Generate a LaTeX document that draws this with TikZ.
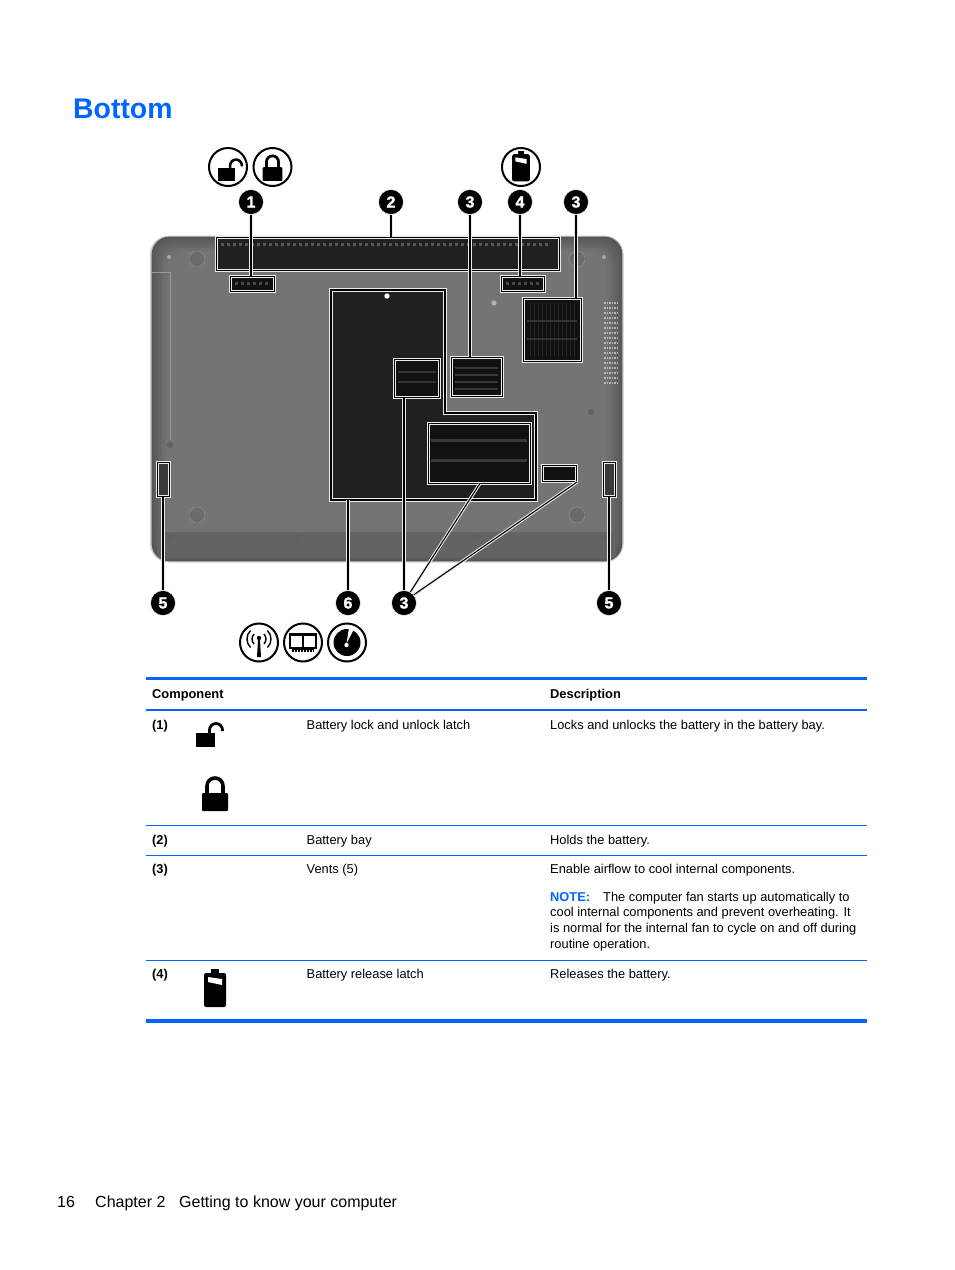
\documentclass[tikz,border=0pt]{standalone}
\usepackage{fontspec}
\setmainfont{Liberation Sans}
\newfontfamily\calloutfont[FakeBold=1.6]{Liberation Sans Bold}
\definecolor{hpblue}{HTML}{0066FF}
\definecolor{bodyedge}{HTML}{565656}
\definecolor{bodymid}{HTML}{747474}
\definecolor{bodyband}{HTML}{636363}
\definecolor{holefill}{HTML}{202020}
\definecolor{ventfill}{HTML}{111111}
\tikzset{
  px/.style={x=1pt,y=-1pt},
  leader/.style={draw=white!92!black,double=black,line width=1.05pt,double distance=1.1pt},
  hole/.style={leader,fill=holefill},
  slot/.style={hole,inner sep=0pt,anchor=north west},
  callout/.style={circle,fill=black,draw=white,line width=0.5pt,minimum size=25pt,inner sep=0pt,text=white,font=\fontsize{16}{15}\calloutfont},
  iconring/.style={circle,draw=black,fill=white,line width=2pt,minimum size=38pt,inner sep=0pt},
  txt/.style={anchor=base west,inner sep=0pt,font=\fontsize{12.85}{15}\selectfont},
  txtb/.style={txt,font=\fontsize{12.85}{15}\selectfont\bfseries},
  foot/.style={anchor=base west,inner sep=0pt,font=\fontsize{16}{18}\selectfont},
  thickrule/.style={draw=hpblue,line width=3pt},
  midrule/.style={draw=hpblue,line width=2pt},
  thinrule/.style={draw=hpblue,line width=1pt},
  pics/lockshut/.style={code={
    \fill[rounded corners=1pt] (-13,-1) rectangle (13,17);
    \draw[line width=#1*3.6pt] (-8,0) -- (-8,-8) arc[start angle=180,end angle=0,x radius=8,y radius=-8] -- (8,0);
  }},
  pics/lockopen/.style={code={
    \fill (-10,-1) rectangle (9,13);
    \draw[line width=#1*2.8pt] (3.5,0) -- (3.5,-4) arc[start angle=180,end angle=0,x radius=6.5,y radius=-6.5] -- (16.5,-3);
  }},
  pics/batt/.style={code={
    \fill[rounded corners=2pt] (-11,-16) rectangle (11,18);
    \fill (-4,-20) rectangle (4,-15);
    \fill[white] (-7,-12) -- (7,-10) -- (7,-4) -- (-7,-7) -- cycle;
  }},
}
\begin{document}
\begin{tikzpicture}[px]
\useasboundingbox[fill=white] (0,0) rectangle (954,1270);

% title
\node[anchor=base west,inner sep=0pt,text=hpblue,font=\fontsize{28.4}{30}\selectfont\bfseries] (title) at (73,118) {Bottom};

% laptop body with soft edges
\fill[black!20,rounded corners=19pt] (150,235.5) rectangle (623.5,562.5);
\foreach \ins/\mix in {0.6/0,2/12,4/25,6/38,8/52,10/66,12/80,14/90,16/100} {
  \fill[bodymid!\mix!bodyedge,rounded corners=18pt] (151+\ins,236+\ins) rectangle (623-\ins,562-\ins);
}
\fill[bodyband,rounded corners=3pt] (157,534) rectangle (616,558);
\fill[bodyband!85!bodymid] (165,532) rectangle (608,534);
\draw[black!40,line width=.5pt] (152,272) -- (170,272) -- (170,440);
% screws and feet
\foreach \sx/\sy in {169/257,604/257}
  \fill[black!35] (\sx,\sy) circle[radius=2];
\foreach \sx/\sy in {170/445,591/412,170/538,297/538,477/538,603/538}
  \fill[black!62] (\sx,\sy) circle[radius=3];
\foreach \sx/\sy in {197/515,577/515,197/259,577/259}
  \draw[black!45,line width=.6pt,fill=bodymid!92!black] (\sx,\sy) circle[radius=8];
\draw[black!55,fill=bodymid,line width=1pt] (312,286) circle[radius=3];
\fill[black!30] (494,303) circle[radius=2.5];
% side vent strip
\foreach \sy in {303,308,...,383}
  \draw[white!72!black,line width=1.8pt,dash pattern=on 1.5pt off 1pt] (604,\sy) -- (618,\sy);

% door
\path[hole] (331,290) -- (445,290) -- (445,413) -- (536,413) -- (536,500) -- (331,500) -- cycle;
\coordinate (doorb) at (348,500);
\fill[white] (387,296) circle[radius=2.7];

% highlighted regions
\node[slot,minimum width=343pt,minimum height=33pt] (bay) at (216,237) {};
\node[slot,fill=ventfill,minimum width=44pt,minimum height=15pt] (latchA) at (230,276) {};
\node[slot,fill=ventfill,minimum width=43pt,minimum height=15pt] (latchB) at (501,276) {};
\node[slot,fill=ventfill,minimum width=58pt,minimum height=63pt] (ventR) at (523,298) {};
\node[slot,fill=ventfill,minimum width=51pt,minimum height=39pt] (ventM) at (451,357) {};
\node[slot,fill=ventfill,minimum width=45pt,minimum height=38pt] (ventI) at (394,359) {};
\node[slot,fill=ventfill,minimum width=102pt,minimum height=60pt] (ventB) at (428,423) {};
\node[slot,fill=ventfill,minimum width=34pt,minimum height=16pt] (ventS) at (542,465) {};
\node[slot,fill=white!22!black,minimum width=12pt,minimum height=34pt] (sideL) at (157,462) {};
\node[slot,fill=white!22!black,minimum width=12pt,minimum height=34pt] (sideR) at (603,462) {};
% vent slats
\foreach \sy in {439,459} \fill[black!78] (431,\sy) rectangle (527,\sy+3);
\foreach \sy in {371,381} \fill[black!80] (398,\sy) rectangle (436,\sy+2);
\foreach \sy in {367,374,381,388} \fill[black!78] (455,\sy) rectangle (498,\sy+1.5);
\foreach \sx in {530,534,...,574} \fill[black!85] (\sx,303) rectangle (\sx+1,356);
\foreach \sy in {320,338} \fill[black!80] (527,\sy) rectangle (577,\sy+1.5);
\foreach \sx in {221,227,...,550} \fill[black!65] (\sx,243) rectangle (\sx+3,246);
\foreach \sx in {235,241,...,268} \fill[black!72] (\sx,282) rectangle (\sx+3,285);
\foreach \sx in {506,512,...,538} \fill[black!72] (\sx,282) rectangle (\sx+3,285);

% callouts
\node[callout] (cA) at (251,202) {1};
\node[callout] (cB) at (391,202) {2};
\node[callout] (cC) at (470,202) {3};
\node[callout] (cD) at (520,202) {4};
\node[callout] (cE) at (576,202) {3};
\node[callout] (cF) at (163,603) {5};
\node[callout] (cG) at (348,603) {6};
\node[callout] (cH) at (404,603) {3};
\node[callout] (cI) at (609,603) {5};

% connectors
\draw[leader] (cA.south) -- (cA.south |- latchA.north);
\draw[leader] (cB.south) -- (cB.south |- bay.north);
\draw[leader] (cC.south) -- (cC.south |- ventM.north);
\draw[leader] (cD.south) -- (cD.south |- latchB.north);
\draw[leader] (cE.south) -- (cE.south |- ventR.north);
\draw[leader] (cF.north) -- (cF.north |- sideL.south);
\draw[leader] (cI.north) -- (cI.north |- sideR.south);
\draw[leader] (cG.north) -- (doorb);
\draw[leader] (cH.north) -- (cH.north |- ventI.south);
\draw[leader] (cH.60) -- (ventB.south);
\draw[leader] (cH.40) -- (ventS.south east);

% icon circles
\node[iconring] (iA) at (228,167) {};
\node[iconring] (iB) at (272.5,167) {};
\node[iconring] (iC) at (521,167) {};
\node[iconring] (iD) at (259,642.5) {};
\node[iconring] (iE) at (303,642.5) {};
\node[iconring] (iF) at (347,642.5) {};
\pic[scale=.9] at (227,169) {lockopen=.9};
\pic[scale=.76] at (272.5,168) {lockshut=.76};
\pic[scale=.8] at (iC) {batt=.8};
% wireless icon
\fill (258,640) -- (260,640) -- (261,657) -- (257,657) -- cycle;
\fill (259,638) circle[radius=2.2];
\foreach \r in {7,12} {
  \draw[line width=1.4pt] ([shift={(-45:\r pt)}]259,639) arc[start angle=-45,end angle=45,radius=\r pt];
  \draw[line width=1.4pt] ([shift={(135:\r pt)}]259,639) arc[start angle=135,end angle=225,radius=\r pt];
}
% memory icon
\draw[line width=1.6pt] (290,634) rectangle (316,648);
\fill (302,634) rectangle (304,648);
\fill (290,633) rectangle (316,636);
\fill (292,648) rectangle (314,652);
\foreach \mx in {294,297,...,312} \fill[white] (\mx,649.5) rectangle (\mx+1,652);
% hard-drive icon
\fill[black] (347,642.5) circle[radius=13.5];
\fill[white] (346.5,643.5) -- (349,628) -- (354,629) -- cycle;
\fill[white] (346.5,645) circle[radius=2.2];

% table
\draw[thickrule] (146,678.5) -- (867,678.5);
\draw[midrule] (146,710) -- (867,710);
\draw[thinrule] (146,825.5) -- (867,825.5);
\draw[thinrule] (146,855.5) -- (867,855.5);
\draw[thinrule] (146,960.5) -- (867,960.5);
\draw[line width=3.6pt,draw=hpblue] (146,1021) -- (867,1021);

\node[txtb] (hA) at (152,698) {Component};
\node[txtb] (hB) at (550,698) {Description};
\node[txtb] (rA) at (152,729) {(1)};
\node[txt] (rAa) at (306.5,729) {Battery lock and unlock latch};
\node[txt] (rAb) at (550,729) {Locks and unlocks the battery in the battery bay.};
\node[txtb] (rB) at (152,844) {(2)};
\node[txt] (rBa) at (306.5,844) {Battery bay};
\node[txt] (rBb) at (550,844) {Holds the battery.};
\node[txtb] (rC) at (152,873) {(3)};
\node[txt] (rCa) at (306.5,873) {Vents (5)};
\node[txt] (rCb) at (550,873) {Enable airflow to cool internal components.};
\node[txt,anchor=north west,align=left,font=\fontsize{12.85}{15.7}\selectfont] (rCc) at (550,891.5) {{\color{hpblue}\bfseries NOTE:}\hspace{13pt}The computer fan starts up automatically to\\cool internal components and prevent overheating. It\\is normal for the internal fan to cycle on and off during\\routine operation.};
\node[txtb] (rD) at (152,978) {(4)};
\node[txt] (rDa) at (306.5,978) {Battery release latch};
\node[txt] (rDb) at (550,978) {Releases the battery.};

\pic at (206,734) {lockopen=1};
\pic at (215,794) {lockshut=1};
\pic at (215,989) {batt=1};

% footer
\node[foot] (fA) at (57,1207) {16};
\node[foot] (fB) at (95,1207) {Chapter 2};
\node[foot] (fC) at (179,1207) {Getting to know your computer};
\end{tikzpicture}
\end{document}
